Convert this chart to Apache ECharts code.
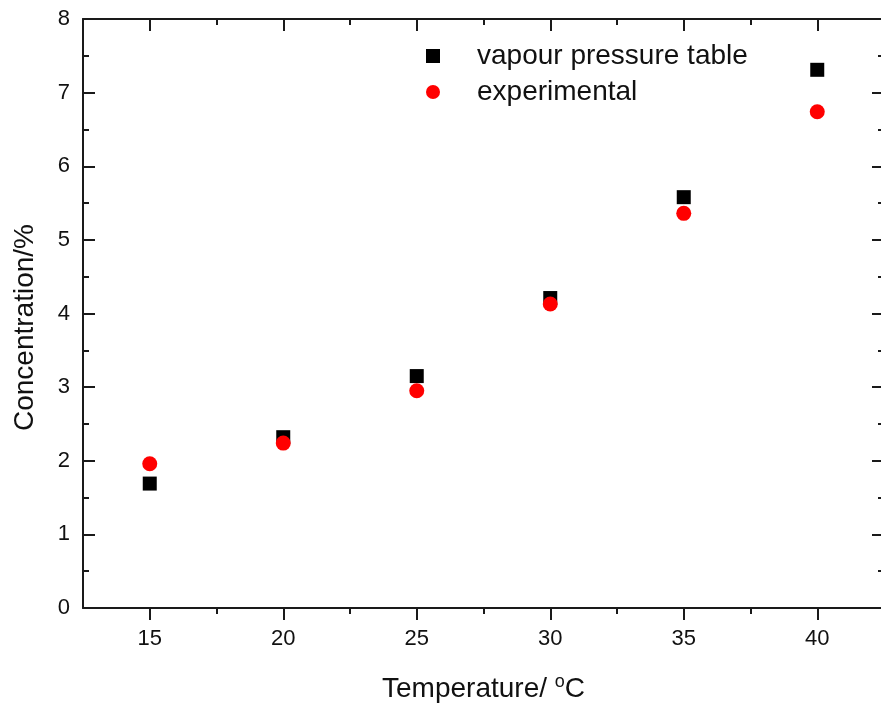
<!DOCTYPE html>
<html>
<head>
<meta charset="utf-8">
<script src="https://cdn.jsdelivr.net/npm/echarts@6/dist/echarts.min.js"></script>
<style>html,body{margin:0;padding:0;background:#fff;overflow:hidden}#c{width:890px;height:709px}</style>
</head>
<body>
<div id="c"></div>
<script>
var temperatures = [15, 20, 25, 30, 35, 40];
var vapourPressureTable = [1.69, 2.32, 3.15, 4.21, 5.58, 7.31];
var experimental = [1.96, 2.24, 2.95, 4.13, 5.36, 6.74];
var seriesNames = ['vapour pressure table', 'experimental'];
var xMajorTicks = [15, 20, 25, 30, 35, 40];
var xMinorTicks = [17.5, 22.5, 27.5, 32.5, 37.5];

var FONT = 'Liberation Sans, Arial, sans-serif';
var AX = '#1a1a1a';
function pairs(xs, ys) { return xs.map(function (x, i) { return [x, ys[i]]; }); }

function xAx(pos, inside, ticks, len, extra) {
  var o = {
    type: 'value', position: pos, min: 12.5, max: 42.5, interval: 2.5,
    axisLine: { show: true, lineStyle: { color: AX, width: 2 } },
    axisTick: { show: true, inside: inside, length: len, customValues: ticks, lineStyle: { color: AX, width: 2 } },
    axisLabel: { show: false }, splitLine: { show: false }
  };
  for (var k in extra) o[k] = extra[k];
  return o;
}

var chart = echarts.init(document.getElementById('c'));
chart.setOption({
  backgroundColor: '#fff',
  animation: false,
  grid: { left: 83, top: 19, right: 6, bottom: 101, containLabel: false },
  legend: {
    orient: 'vertical', left: 421, top: 37, itemWidth: 14, itemHeight: 14, itemGap: 8,
    textStyle: { fontFamily: FONT, fontSize: 28, color: '#111', padding: [0, 0, 0, 32] },
    data: [
      { name: seriesNames[0], icon: 'rect' },
      { name: seriesNames[1], icon: 'circle' }
    ]
  },
  xAxis: [
    xAx('bottom', false, xMajorTicks, 12, {
      name: 'Temperature/ {sup|o}C', nameLocation: 'middle', nameGap: 65,
      nameTextStyle: { fontFamily: FONT, fontSize: 28, color: '#111',
        rich: { sup: { fontFamily: FONT, fontSize: 18, color: '#111', padding: [0, 0, 14, 0] } } },
      axisLabel: { show: true, margin: 20, fontFamily: FONT, fontSize: 22, color: '#111', customValues: xMajorTicks }
    }),
    xAx('bottom', false, xMinorTicks, 6, { axisLine: { show: false } }),
    xAx('top', true, xMajorTicks, 12, {}),
    xAx('top', true, xMinorTicks, 6, { axisLine: { show: false } })
  ],
  yAxis: [
    {
      type: 'value', position: 'left', min: 0, max: 8, interval: 1,
      name: 'Concentration/%', nameLocation: 'middle', nameGap: 44,
      nameTextStyle: { fontFamily: FONT, fontSize: 28, color: '#111', padding: [0, 28, 0, 0] },
      axisLine: { show: true, lineStyle: { color: AX, width: 2 } },
      axisTick: { show: true, inside: true, length: 12, lineStyle: { color: AX, width: 2 } },
      minorTick: { show: true, splitNumber: 2, length: 6, lineStyle: { color: AX, width: 2 } },
      axisLabel: { margin: 13, fontFamily: FONT, fontSize: 22, color: '#111' },
      splitLine: { show: false }, minorSplitLine: { show: false }
    },
    {
      type: 'value', position: 'right', min: 0, max: 8, interval: 1,
      axisLine: { show: true, lineStyle: { color: AX, width: 2 } },
      axisTick: { show: true, inside: true, length: 12, lineStyle: { color: AX, width: 2 } },
      minorTick: { show: true, splitNumber: 2, length: 6, lineStyle: { color: AX, width: 2 } },
      axisLabel: { show: false }, splitLine: { show: false }
    }
  ],
  series: [
    { name: seriesNames[0], type: 'scatter', xAxisIndex: 0, yAxisIndex: 0, symbol: 'rect', symbolSize: 14,
      itemStyle: { color: '#000', opacity: 1 }, data: pairs(temperatures, vapourPressureTable), z: 2 },
    { name: seriesNames[1], type: 'scatter', xAxisIndex: 0, yAxisIndex: 0, symbol: 'circle', symbolSize: 15,
      itemStyle: { color: '#ff0000', opacity: 1 }, data: pairs(temperatures, experimental), z: 3 }
  ]
});
</script>
</body>
</html>
